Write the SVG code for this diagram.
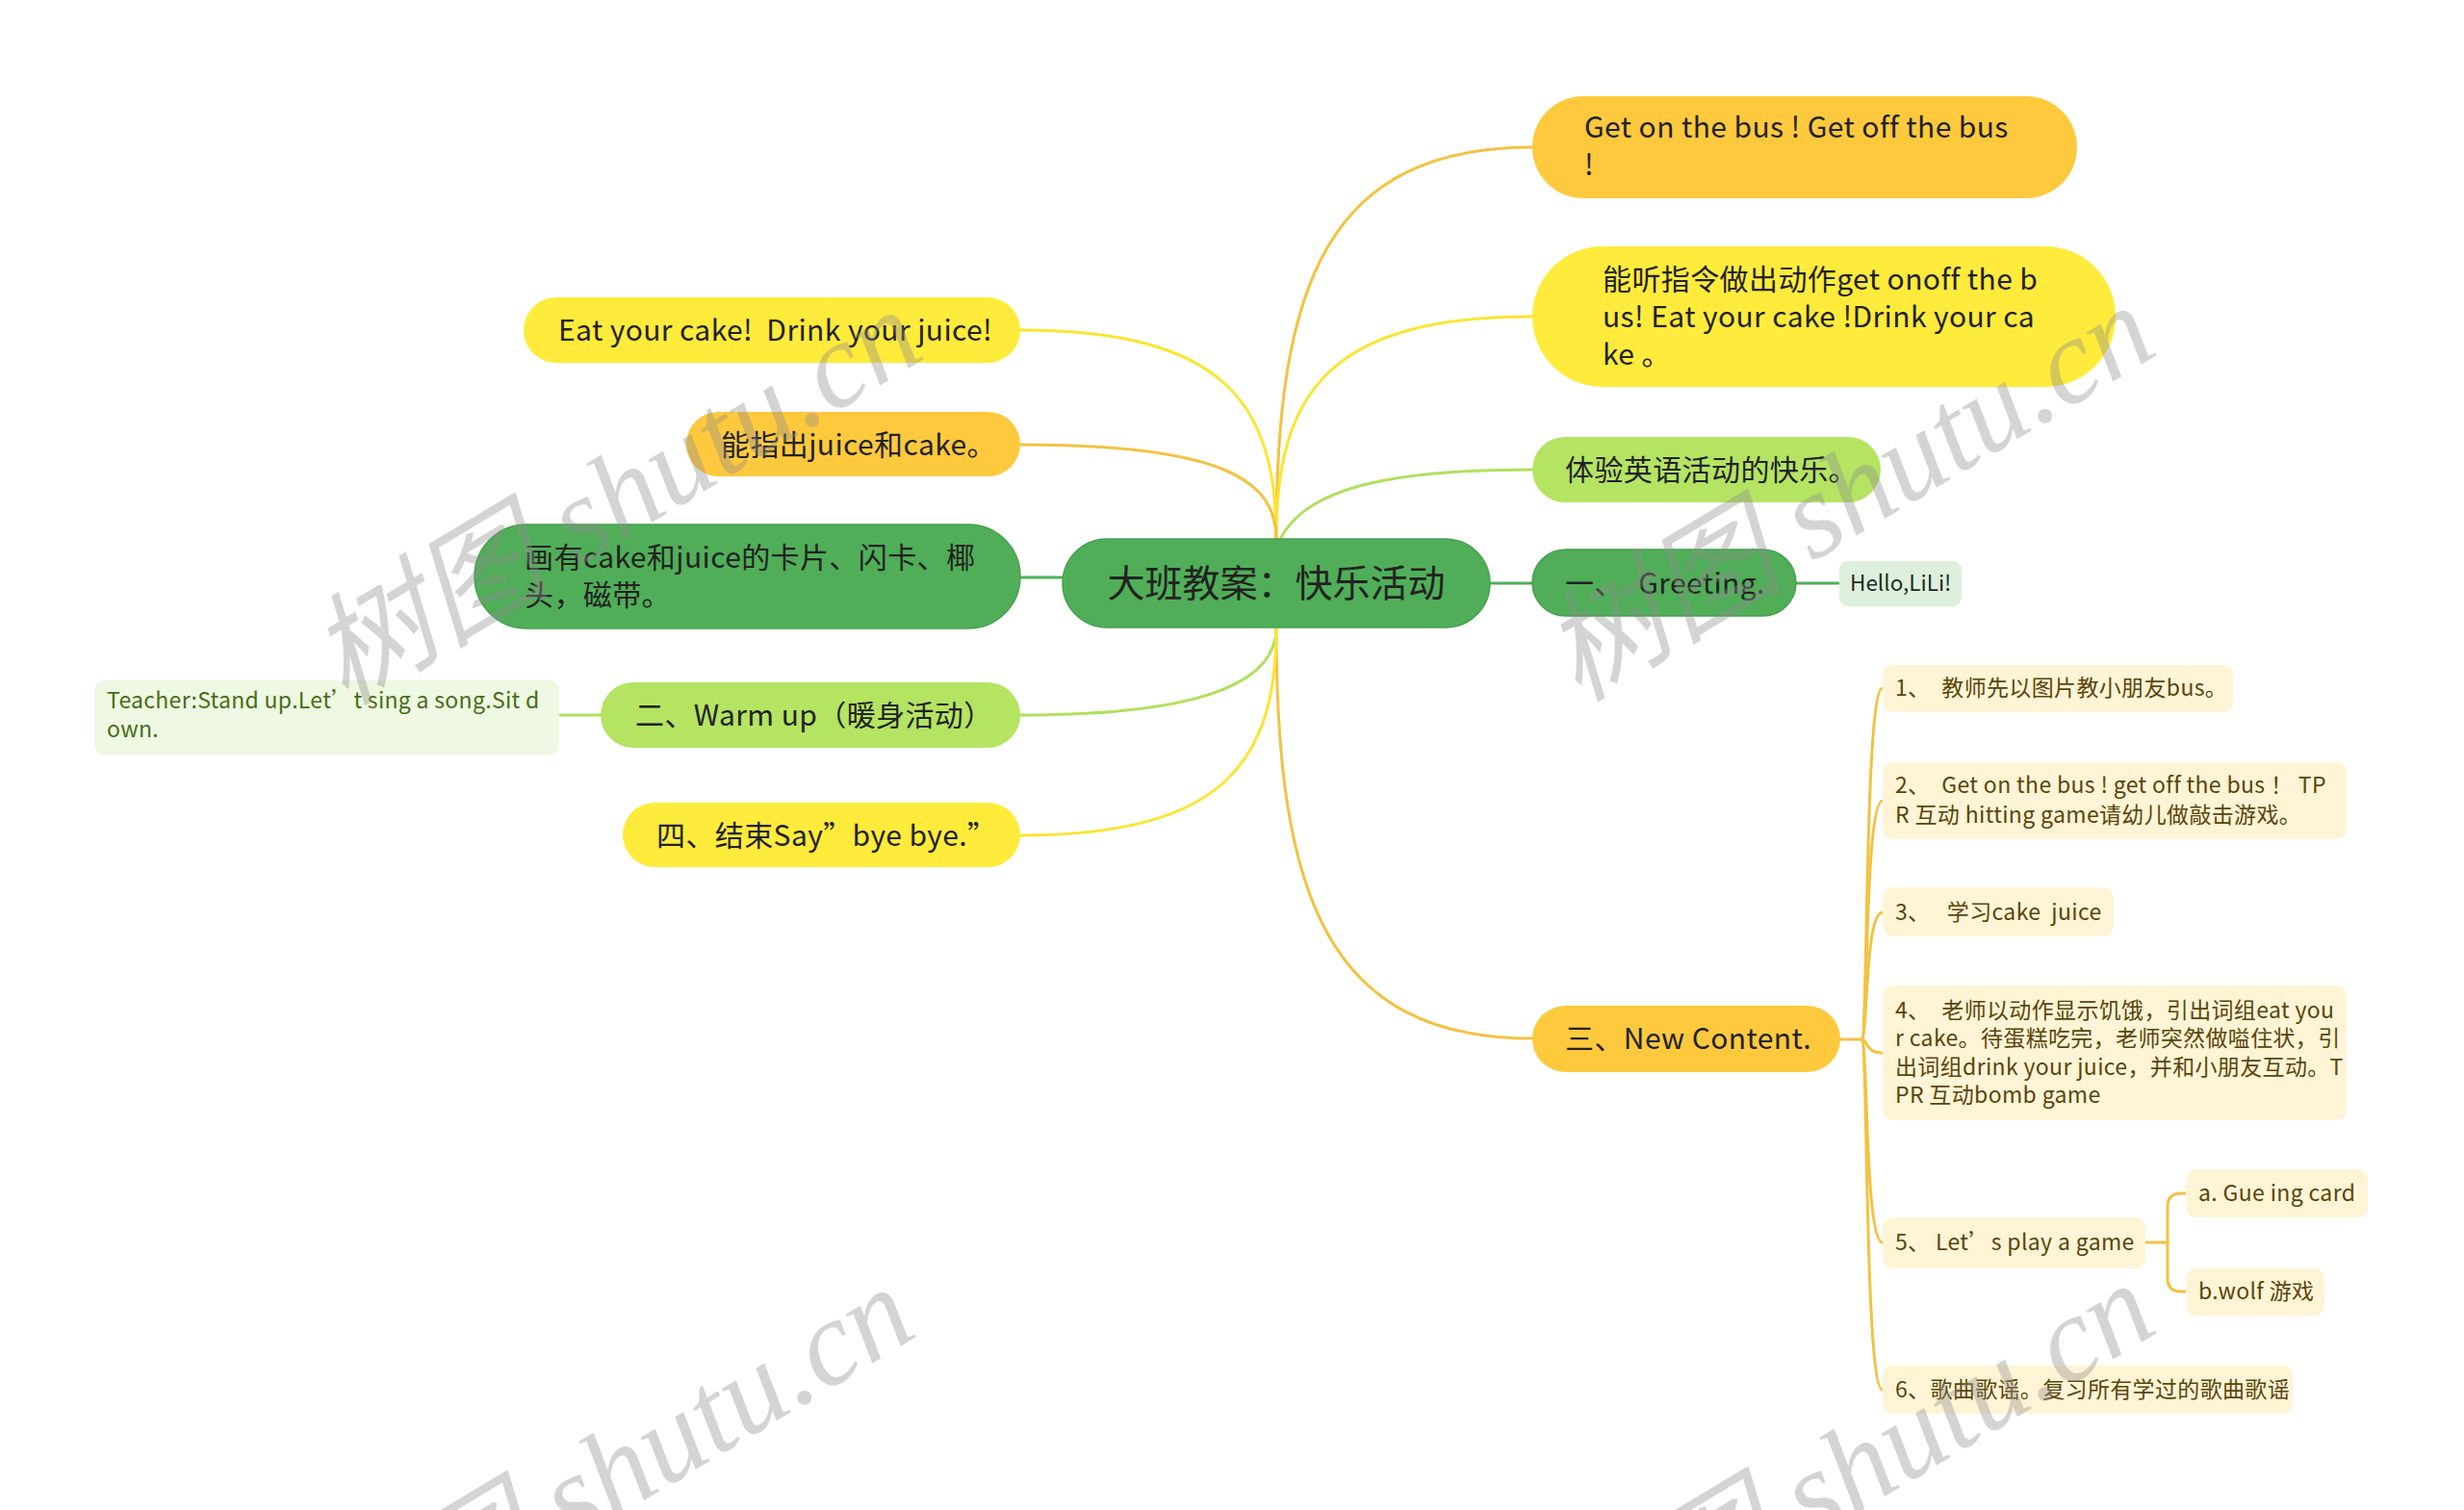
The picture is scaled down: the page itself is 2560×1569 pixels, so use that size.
<svg xmlns="http://www.w3.org/2000/svg" width="2560" height="1569" viewBox="0 0 2560 1569">
<style>
text{font-family:"Microsoft YaHei","Noto Sans CJK SC","Noto Sans",sans-serif;fill:#222;}
.main{font-size:30px;letter-spacing:0.4px;}
.sub{font-size:23px;letter-spacing:0.35px;fill:#5a4508;}
.c{fill:none;stroke-width:3;stroke-linecap:round;}
.cg{stroke:#4fae57;} .cl{stroke:#b0e05e;} .cy{stroke:#fbe532;} .co{stroke:#f3c241;}
.ng{fill:#50ae58;stroke:#46a04e;stroke-width:1.5;}
.nl{fill:#b4e462;}
.ny{fill:#ffeb3b;}
.no{fill:#ffc93d;}
.nc{fill:#fff4d6;}
.wm{font-family:"Liberation Serif","Noto Sans CJK SC",serif;font-style:italic;font-size:126px;fill:#8f8f8f;fill-opacity:0.38;}
</style>
<rect width="2560" height="1569" fill="#ffffff"/>
<g id="connectors">
<path class="c co" d="M1326,560 C1326,295 1379,153 1592,153"/>
<path class="c cy" d="M1326,560 C1326,410 1379,329 1592,329"/>
<path class="c cl" d="M1330,560 C1352,520 1405,488 1592,488"/>
<path class="c cg" d="M1548,606 H1592"/>
<path class="c co" d="M1326,652 C1326,930 1379,1079 1592,1079"/>
<path class="c cy" d="M1326,560 C1326,420 1273,343 1060,343"/>
<path class="c co" d="M1326,560 C1326,500 1273,462 1060,462"/>
<path class="c cg" d="M1060,600 H1104"/>
<path class="c cl" d="M1326,652 C1326,700 1273,743 1060,743"/>
<path class="c cy" d="M1326,652 C1326,790 1273,868 1060,868"/>
<path class="c cg" d="M1866,606 H1911"/>
<path class="c cl" d="M581,743 H624"/>
<path class="c co" d="M1912,1080 H1934"/>
<path class="c co" d="M1934,1080 C1941,1080 1937,715 1956,715"/>
<path class="c co" d="M1934,1080 C1941,1080 1937,832 1956,832"/>
<path class="c co" d="M1934,1080 C1941,1080 1937,948 1956,948"/>
<path class="c co" d="M1934,1080 C1941,1080 1937,1094 1956,1094"/>
<path class="c co" d="M1934,1080 C1941,1080 1937,1291 1956,1291"/>
<path class="c co" d="M1934,1080 C1941,1080 1937,1444 1956,1444"/>
<path class="c co" d="M2229,1291 H2252"/>
<path class="c co" d="M2252,1291 V1254 Q2252,1240 2266,1240 H2271"/>
<path class="c co" d="M2252,1291 V1328 Q2252,1342 2266,1342 H2271"/>
</g>
<g id="center">
<rect class="ng" x="1104" y="560" width="444" height="92" rx="46"/>
<text x="1326" y="620" text-anchor="middle" style="font-size:39px">大班教案：快乐活动</text>
</g>
<g id="n-getonbus">
<rect class="no" x="1592" y="100" width="566" height="106" rx="53"/>
<text class="main" x="1646" y="143">Get on the bus ! Get off the bus</text>
<text class="main" x="1646" y="182">!</text>
</g>
<g id="n-tingzhiling">
<rect class="ny" x="1592" y="256" width="606" height="146" rx="73"/>
<text class="main" x="1665" y="301">能听指令做出动作get onoff the b</text>
<text class="main" x="1665" y="340">us! Eat your cake !Drink your ca</text>
<text class="main" x="1665" y="379">ke 。</text>
</g>
<g id="n-tiyan">
<rect class="nl" x="1592" y="454" width="362" height="68" rx="34"/>
<text class="main" x="1626" y="499">体验英语活动的快乐。</text>
</g>
<g id="n-greeting">
<rect class="ng" x="1592" y="571" width="274" height="69" rx="34.5"/>
<text class="main" x="1626" y="617" xml:space="preserve">一、　Greeting.</text>
</g>
<g id="n-hello">
<rect x="1911" y="583" width="127" height="47" rx="9" fill="#ddf0de"/>
<text x="1922" y="614" style="font-size:22.5px;fill:#1e2b1e">Hello,LiLi!</text>
</g>
<g id="n-newcontent">
<rect class="no" x="1592" y="1045" width="320" height="69" rx="34.5"/>
<text class="main" x="1626" y="1090">三、New Content.</text>
</g>
<g id="c1">
<rect class="nc" x="1956" y="691" width="364" height="49" rx="10"/>
<text class="sub" x="1969" y="723" xml:space="preserve">1、　教师先以图片教小朋友bus。</text>
</g>
<g id="c2">
<rect class="nc" x="1956" y="792" width="482" height="80" rx="10"/>
<text class="sub" x="1969" y="824" xml:space="preserve">2、　Get on the bus ! get off the bus ！ TP</text>
<text class="sub" x="1969" y="855" xml:space="preserve">R 互动 hitting game请幼儿做敲击游戏。</text>
</g>
<g id="c3">
<rect class="nc" x="1956" y="922" width="240" height="51" rx="10"/>
<text class="sub" x="1969" y="956" xml:space="preserve">3、　 学习cake  juice</text>
</g>
<g id="c4">
<rect class="nc" x="1956" y="1024" width="482" height="140" rx="10"/>
<text class="sub" x="1969" y="1058" xml:space="preserve">4、　老师以动作显示饥饿，引出词组eat you</text>
<text class="sub" x="1969" y="1087">r cake。待蛋糕吃完，老师突然做嗌住状，引</text>
<text class="sub" x="1969" y="1117">出词组drink your juice，并和小朋友互动。T</text>
<text class="sub" x="1969" y="1146">PR 互动bomb game</text>
</g>
<g id="c5">
<rect class="nc" x="1956" y="1265" width="273" height="53" rx="10"/>
<text class="sub" x="1969" y="1299" xml:space="preserve">5、 Let’s play a game</text>
</g>
<g id="c5a">
<rect class="nc" x="2271" y="1215" width="189" height="50" rx="10"/>
<text class="sub" x="2284" y="1248">a. Gue ing card</text>
</g>
<g id="c5b">
<rect class="nc" x="2271" y="1318" width="144" height="49" rx="10"/>
<text class="sub" x="2284" y="1350">b.wolf 游戏</text>
</g>
<g id="c6">
<rect class="nc" x="1956" y="1419" width="426" height="50" rx="10"/>
<text class="sub" x="1969" y="1452">6、歌曲歌谣。复习所有学过的歌曲歌谣</text>
</g>
<g id="n-eatcake">
<rect class="ny" x="544" y="309" width="516" height="68" rx="34"/>
<text class="main" x="580" y="354" xml:space="preserve">Eat your cake!  Drink your juice!</text>
</g>
<g id="n-zhichu">
<rect class="no" x="713" y="428" width="347" height="67" rx="33.5"/>
<text class="main" x="749" y="473">能指出juice和cake。</text>
</g>
<g id="n-huayou">
<rect class="ng" x="493" y="545" width="567" height="108" rx="54"/>
<text class="main" x="545" y="590">画有cake和juice的卡片、闪卡、椰</text>
<text class="main" x="545" y="629">头，磁带。</text>
</g>
<g id="n-warmup">
<rect class="nl" x="624" y="709" width="436" height="68" rx="34"/>
<text class="main" x="660" y="754">二、Warm up（暖身活动）</text>
</g>
<g id="n-teacher">
<rect x="98" y="707" width="483" height="77" rx="10" fill="#eef8e2"/>
<text x="111" y="736" style="font-size:23px;letter-spacing:0.3px;fill:#466e14">Teacher:Stand up.Let’t sing a song.Sit d</text>
<text x="111" y="766" style="font-size:23px;letter-spacing:0.3px;fill:#466e14">own.</text>
</g>
<g id="n-end">
<rect class="ny" x="647" y="834" width="413" height="67" rx="33.5"/>
<text class="main" x="682" y="879">四、结束Say”bye bye.”</text>
</g>
<g id="watermarks">
<text class="wm" text-anchor="middle" transform="translate(641,518) rotate(-31)" x="0" y="40">树图 shutu.cn</text>
<text class="wm" text-anchor="middle" transform="translate(1922,514) rotate(-31)" x="0" y="40">树图 shutu.cn</text>
<text class="wm" text-anchor="middle" transform="translate(633,1534) rotate(-31)" x="0" y="40">树图 shutu.cn</text>
<text class="wm" text-anchor="middle" transform="translate(1922,1530) rotate(-31)" x="0" y="40">树图 shutu.cn</text>
</g>
</svg>
